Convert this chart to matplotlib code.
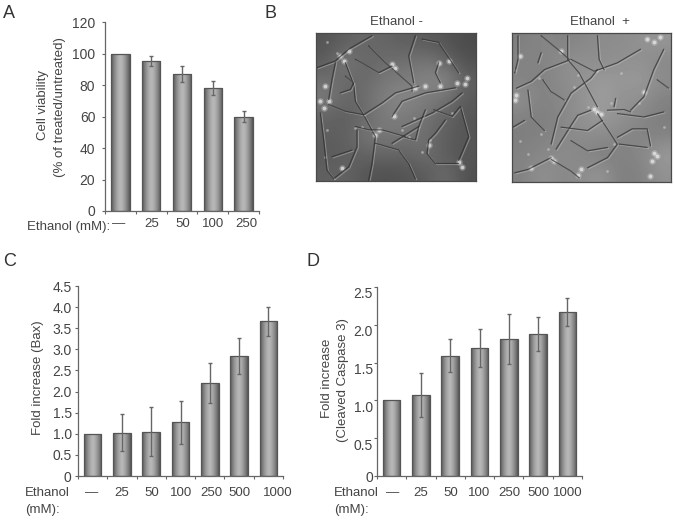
import numpy as np
import matplotlib
matplotlib.use("Agg")
import matplotlib.pyplot as plt
from matplotlib.transforms import ScaledTranslation

plt.rcParams['font.family'] = ['Liberation Sans', 'DejaVu Sans']

W, H = 674, 521
TEXT = '#444444'

# panel A
labels_a = ['—', '25', '50', '100', '250']
viability = [100, 95.5, 87, 78, 60]
viability_err = [0, 3.2, 5, 4.6, 3.4]
ticks_a = [0, 20, 40, 60, 80, 100, 120]

# panel C
labels_c = ['—', '25', '50', '100', '250', '500', '1000']
bax = [1.0, 1.03, 1.05, 1.27, 2.21, 2.84, 3.66]
bax_err = [0, 0.43, 0.58, 0.51, 0.47, 0.43, 0.35]
ticks_c = [0, 0.5, 1.0, 1.5, 2.0, 2.5, 3.0, 3.5, 4.0, 4.5]
ticklabels_c = ['0', '0.5', '1.0', '1.5', '2.0', '2.5', '3.0', '3.5', '4.0', '4.5']

# panel D
caspase = [1.0, 1.07, 1.59, 1.69, 1.81, 1.88, 2.17]
caspase_err = [0, 0.29, 0.22, 0.25, 0.33, 0.22, 0.19]
ticks_d = [0, 0.5, 1.0, 1.5, 2.0, 2.5]
ticklabels_d = ['0', '0.5', '1.0', '1.5', '2.0', '2.5']

# micrographs: coarse grey levels and neurite traces
tone_minus = [[85, 95, 105, 100, 95, 90, 85, 75],
              [90, 125, 100, 110, 110, 120, 100, 80],
              [110, 105, 105, 120, 125, 130, 140, 95],
              [125, 100, 110, 130, 135, 125, 115, 90],
              [100, 95, 105, 125, 125, 115, 100, 85],
              [95, 95, 120, 120, 115, 110, 95, 85],
              [90, 95, 100, 105, 100, 115, 90, 85],
              [95, 100, 85, 80, 85, 90, 110, 80]]
tone_plus = [[125, 135, 130, 135, 140, 140, 145, 150],
             [135, 130, 140, 145, 140, 145, 145, 135],
             [130, 130, 140, 145, 155, 150, 155, 140],
             [145, 130, 135, 145, 160, 145, 145, 130],
             [130, 125, 135, 145, 155, 145, 135, 125],
             [125, 130, 135, 140, 140, 135, 130, 130],
             [130, 135, 140, 135, 125, 130, 135, 155],
             [130, 145, 135, 140, 150, 125, 130, 145]]
dark_minus = [[(15, 115), (70, 95), (110, 60), (180, 20)],
              [(70, 100), (60, 150), (50, 210)],
              [(50, 225), (100, 245), (155, 255), (190, 320), (180, 400), (170, 450)],
              [(100, 100), (125, 165), (130, 215), (155, 255)],
              [(85, 190), (115, 180), (125, 160), (100, 140)],
              [(170, 50), (220, 100), (300, 170), (300, 185)],
              [(155, 255), (210, 220), (250, 190), (320, 170)],
              [(240, 260), (270, 215), (340, 190), (430, 175)],
              [(270, 290), (360, 250), (420, 215), (450, 190)],
              [(190, 340), (260, 360), (290, 400), (310, 445)],
              [(135, 300), (135, 350), (110, 410), (65, 445)],
              [(365, 240), (420, 260), (445, 230), (470, 320), (440, 390)],
              [(380, 100), (370, 130), (385, 160)],
              [(330, 30), (380, 40), (400, 70), (440, 130)],
              [(240, 340), (320, 290), (340, 240)],
              [(350, 330), (345, 370), (370, 400), (440, 400)],
              [(25, 250), (35, 330), (45, 420), (65, 445)],
              [(130, 290), (170, 300), (210, 300), (280, 320)],
              [(310, 20), (290, 80), (305, 160)],
              [(60, 380), (120, 360)],
              [(270, 320), (310, 330), (320, 290)],
              [(400, 270), (370, 310), (350, 330)],
              [(130, 90), (200, 130), (240, 110)]]
bright_minus = [[(85, 80), (110, 65), (95, 95), (40, 170), (25, 215), (50, 215), (35, 235),
                 (250, 115), (240, 105), (460, 165), (435, 160), (465, 145), (310, 175),
                 (340, 170), (385, 170), (200, 300), (190, 315), (90, 412), (245, 260),
                 (440, 395), (450, 410), (380, 100), (410, 95), (350, 345)],
                [(45, 40), (75, 70), (130, 295), (290, 320), (305, 265), (45, 300),
                 (355, 330), (330, 365), (270, 300), (420, 250), (150, 290), (40, 380)]]
dark_plus = [[(25, 175), (70, 155), (110, 120), (190, 90), (260, 125), (330, 100), (400, 60)],
             [(130, 340), (150, 260), (190, 190), (250, 145), (270, 120)],
             [(145, 355), (190, 285), (210, 255), (250, 240)],
             [(270, 250), (310, 310), (330, 340), (300, 380), (240, 410)],
             [(330, 320), (375, 295), (420, 295), (430, 345)],
             [(335, 340), (420, 350)],
             [(370, 240), (410, 200), (440, 120), (470, 60)],
             [(300, 240), (350, 238), (370, 245)],
             [(105, 150), (130, 185), (170, 210)],
             [(30, 20), (30, 90), (20, 130)],
             [(180, 20), (180, 90), (215, 130), (270, 230)],
             [(15, 290), (50, 270)],
             [(130, 380), (60, 415), (20, 425)],
             [(130, 385), (190, 420), (215, 440)],
             [(100, 20), (150, 60), (185, 90)],
             [(450, 150), (485, 175)],
             [(320, 230), (325, 205)],
             [(270, 20), (275, 90), (290, 120)],
             [(160, 290), (240, 300), (285, 270)],
             [(60, 180), (70, 260), (110, 300)],
             [(330, 250), (410, 260), (470, 245)],
             [(190, 330), (240, 360), (300, 350)],
             [(90, 100), (100, 70)]]
bright_plus = [[(270, 245), (260, 235), (280, 250), (20, 210), (25, 195), (440, 365), (435, 390),
                (450, 375), (210, 430), (220, 415), (130, 380), (140, 390), (420, 30),
                (460, 25), (440, 40), (160, 65), (35, 80), (410, 185), (70, 410), (430, 435)],
               [(100, 310), (95, 145), (270, 125), (210, 135), (20, 120), (340, 130),
                (310, 220), (240, 230), (300, 420), (60, 370), (470, 290), (200, 170),
                (320, 340), (395, 220), (120, 355), (35, 330)]]


def px_axes(left, top, right, bottom):
    return fig.add_axes([left / W, 1 - bottom / H, (right - left) / W, (bottom - top) / H])


def put(x, y, s, **kw):
    kw.setdefault('color', TEXT)
    kw.setdefault('fontsize', 9.5)
    kw.setdefault('va', 'center')
    fig.text(x / W, 1 - y / H, s, **kw)


def bar_panel(ax, values, errs, ymax, yticks, yticklabels, pad, shift=0):
    n = len(values)
    x = np.arange(n)
    bars = ax.bar(x, values, width=0.6, facecolor='none', edgecolor='#555555', linewidth=0.9, zorder=3)
    grad = (np.abs(np.linspace(-1, 1, 40)) ** 1.5)[None, :]
    for b in bars:
        im = ax.imshow(grad, cmap='gray_r', vmin=-0.757, vmax=1.946, aspect='auto', zorder=2,
                       extent=[b.get_x(), b.get_x() + b.get_width(), 0, b.get_height()])
        im.set_clip_path(b)
    ax.errorbar(x[1:], values[1:], yerr=errs[1:], fmt='none', ecolor='#666666', elinewidth=1.0,
                capsize=1.3, capthick=1.0, zorder=4)
    ax.set_xlim(-0.5, n - 0.5)
    ax.set_ylim(0, ymax)
    ax.set_xticks(np.arange(n + 1) - 0.5)
    ax.set_xticklabels([])
    ax.set_yticks(yticks)
    ax.set_yticklabels(yticklabels)
    ax.tick_params(axis='x', direction='out', length=2.5, width=0.8, color='#666666')
    ax.tick_params(axis='y', direction='out', length=2, width=0.8, color='#666666',
                   labelsize=10, labelcolor=TEXT, pad=pad)
    for s in ['top', 'right']:
        ax.spines[s].set_visible(False)
    for s in ['left', 'bottom']:
        ax.spines[s].set_color('#666666')
        ax.spines[s].set_linewidth(0.9)
    if shift:
        off = ScaledTranslation(0, -shift / 100, fig.dpi_scale_trans)
        for t in ax.get_yticklabels()[1:]:
            t.set_transform(t.get_transform() + off)


def micrograph(ax, tone, dark, bright):
    ax.imshow(tone, cmap='gray', vmin=0, vmax=255, interpolation='bicubic', aspect='auto',
              extent=[12, 492, 452, 12])
    for path in dark:
        xs, ys = zip(*path)
        ax.plot(np.array(xs) + 4, np.array(ys) + 3, color='#c4c4c4', lw=0.8, alpha=0.45)
        ax.plot(xs, ys, color='#2c2c2c', lw=0.9, alpha=0.7, solid_capstyle='round')
    xs, ys = zip(*bright[0])
    ax.scatter(xs, ys, s=22, color='#d8d8d8', alpha=0.35, linewidths=0)
    ax.scatter(xs, ys, s=7, color='#ececec', alpha=0.7, linewidths=0)
    xs, ys = zip(*bright[1])
    ax.scatter(xs, ys, s=4, color='#d0d0d0', alpha=0.55, linewidths=0)
    ax.set_xlim(12, 492)
    ax.set_ylim(452, 12)
    ax.set_xticks([])
    ax.set_yticks([])
    for s in ax.spines.values():
        s.set_color('#4a4a4a')
        s.set_linewidth(0.9)


fig = plt.figure(figsize=(W / 100, H / 100), dpi=100)

ax_a = px_axes(105, 22, 259, 211)
bar_panel(ax_a, viability, viability_err, 120, ticks_a, [str(t) for t in ticks_a], 5)
ax_c = px_axes(78, 286, 283, 476)
bar_panel(ax_c, bax, bax_err, 4.5, ticks_c, ticklabels_c, 2.5)
ax_d = px_axes(377, 287, 582, 476)
bar_panel(ax_d, caspase, caspase_err, 2.5, ticks_d, ticklabels_d, 1, shift=6)

ax_left = px_axes(316, 33, 476, 181)
micrograph(ax_left, tone_minus, dark_minus, bright_minus)
ax_right = px_axes(512, 33, 671, 182)
micrograph(ax_right, tone_plus, dark_plus, bright_plus)

# panel letters
for x, y, s in [(3, 14, 'A'), (265, 14, 'B'), (3, 261, 'C'), (307, 261, 'D')]:
    put(x, y, s, fontsize=13, color='#333333')

put(397, 22, 'Ethanol -', ha='center')
put(600, 22, 'Ethanol  +', ha='center')

# y titles
put(43, 105, 'Cell viability', rotation=90, ha='center')
put(60, 107, '(% of treated/untreated)', rotation=90, ha='center')
put(38, 378, 'Fold increase (Bax)', rotation=90, ha='center')
put(327, 378, 'Fold increase', rotation=90, ha='center')
put(343, 380, '(Cleaved Caspase 3)', rotation=90, ha='center')

# category labels
centers_a = [119, 152, 183, 213, 246]
for x, s in zip(centers_a, labels_a):
    put(x, 224, s, ha='center')
put(27, 227, 'Ethanol (mM):')

centers_c = [92, 122, 152, 181, 211, 239, 278]
centers_d = [393, 421, 451, 479, 509, 538, 568]
for x, xd, s in zip(centers_c, centers_d, labels_c):
    put(x, 493, s, ha='center')
    put(xd, 493, s, ha='center')
put(25, 493, 'Ethanol')
put(25, 510, '(mM):')
put(334, 493, 'Ethanol')
put(334, 510, '(mM):')

fig.savefig('out.png', dpi=100)
